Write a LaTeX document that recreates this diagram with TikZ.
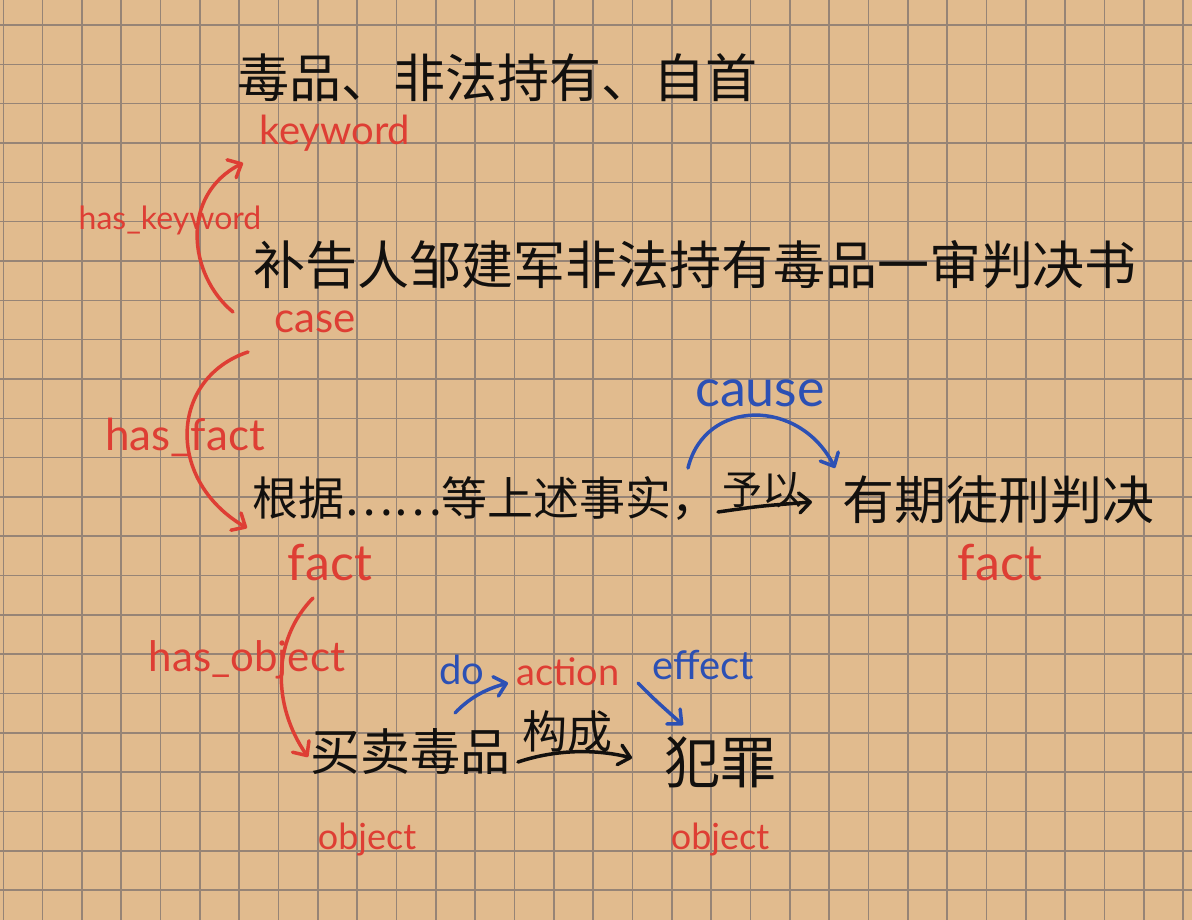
\documentclass[tikz,border=0pt]{standalone}
\usepackage{fontspec}
\setmainfont{Lato}
\newfontfamily\cjk{Noto Sans CJK SC}
\usetikzlibrary{arrows.meta}
\definecolor{paper}{RGB}{225,187,142}
\definecolor{gridc}{RGB}{150,132,118}
\definecolor{inkred}{RGB}{222,62,52}
\definecolor{inkblue}{RGB}{44,80,180}
\definecolor{ink}{RGB}{18,16,14}
\begin{document}
\begin{tikzpicture}[x=1pt,y=-1pt,
  zh/.style={font=\cjk\fontsize{#1}{#1}\selectfont, text=ink, inner sep=0pt},
  rl/.style={font=\fontsize{#1}{#1}\selectfont, text=inkred, inner sep=0pt},
  bl/.style={font=\fontsize{#1}{#1}\selectfont, text=inkblue, inner sep=0pt},
  barb/.style={-{Straight Barb[length=11pt,width=20pt,line width=3.5pt,round]}},
  redarc/.style={draw=inkred, line width=3.5pt, line cap=round, barb},
  bluearc/.style={draw=inkblue, line width=3.5pt, line cap=round, barb},
  blackarc/.style={draw=ink, line width=3.5pt, line cap=round, barb},
  gridline/.style={draw=gridc, line width=1.6pt}
]
\useasboundingbox (0,0) rectangle (1192,920);
\fill[paper] (0,0) rectangle (1192,920);
\foreach \k in {0,...,30} \draw[gridline] ({3.3+39.33*\k},0) -- ({3.3+39.33*\k},920);
\foreach \k in {0,...,22} \draw[gridline] (0,{25+39.33*\k}) -- (1192,{25+39.33*\k});

% texts
\node[zh=52] (title) at (497,78) {毒品、非法持有、自首};
\node[rl=40] (kw) at (335,133) {keyword};
\node[rl=32] (haskw) at (170,220) {has\_keyword};
\node[rl=42] (caselab) at (315,322) {case};
\node[zh=52] (casetxt) at (695,265) {补告人邹建军非法持有毒品一审判决书};
\node[rl=44] (hasfact) at (185,437) {has\_fact};
\node[zh=46] (fact1) at (485,498) {根据……等上述事实，};
\node[zh=40] (yuyi) at (762,490) {予以};
\node[zh=52] (fact2) at (998,500) {有期徒刑判决};
\node[bl=52] (cause) at (760,393) {cause};
\node[rl=50] (factlabA) at (330,563) {fact};
\node[rl=50] (factlabB) at (1000,563) {fact};
\node[rl=42] (hasobj) at (247,660) {has\_object};
\node[zh=50] (obj1) at (410,752) {买卖毒品};
\node[bl=40] (do) at (462,670) {do};
\node[rl=38] (action) at (568,672) {action};
\node[zh=45] (goucheng) at (567,732) {构成};
\node[bl=40] (effect) at (703,665) {effect};
\node[zh=56] (obj2) at (720,762) {犯罪};
\node[rl=36] (objlabA) at (367,840) {object};
\node[rl=36] (objlabB) at (720,840) {object};

% connector end points
\coordinate (kwS) at (233,312);
\coordinate (kwE) at (243,163);
\coordinate (hfS) at (248,352);
\coordinate (hfE) at (247,528);
\coordinate (hoS) at (313,598);
\coordinate (hoE) at (308,757);
\coordinate (caS) at (688,468);
\coordinate (caE) at (835,468);
\coordinate (doS) at (455,713);
\coordinate (doE) at (508,683);
\coordinate (efS) at (638,683);
\coordinate (efE) at (683,725);
\coordinate (yyS) at (718,512);
\coordinate (yyE) at (812,502);
\coordinate (gcS) at (518,762);
\coordinate (gcE) at (632,758);

% connectors
\draw[redarc] (kwS) .. controls (188,275) and (180,195) .. (kwE);
\draw[redarc] (hfS) .. controls (170,378) and (165,480) .. (hfE);
\draw[redarc] (hoS) .. controls (272,640) and (272,705) .. (hoE);
\draw[bluearc] (caS) .. controls (705,398) and (800,398) .. (caE);
\draw[bluearc] (doS) .. controls (472,695) and (490,688) .. (doE);
\draw[bluearc] (efS) .. controls (655,700) .. (efE);
\draw[blackarc] (yyS) .. controls (760,506) .. (yyE);
\draw[blackarc] (gcS) .. controls (560,748) and (600,750) .. (gcE);
\end{tikzpicture}
\end{document}
